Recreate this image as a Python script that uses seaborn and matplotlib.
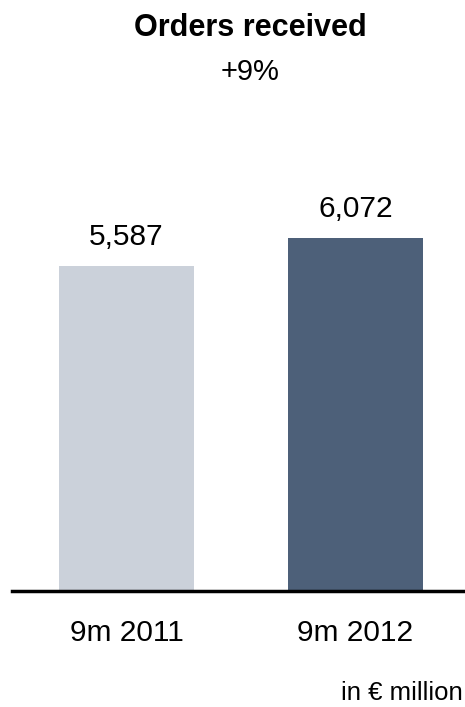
import matplotlib
matplotlib.use("Agg")
import matplotlib.pyplot as plt
import seaborn as sns
import pandas as pd

categories = ["9m 2011", "9m 2012"]
values = [5587, 6072]
value_labels = ["5,587", "6,072"]
colors = ["#CBD1DA", "#4D6079"]
title = "Orders received"
subtitle = "+9%"
unit_note = "in \u20ac million"

sns.set_theme(style="white")
plt.rcParams["font.family"] = ["Liberation Sans", "DejaVu Sans"]

df = pd.DataFrame({"period": categories, "orders": values})

fig = plt.figure(figsize=(4.65, 7.07), dpi=100)
ax = fig.add_axes([12 / 465, 116 / 707, 453 / 465, 441 / 707])
sns.barplot(data=df, x="period", y="orders", hue="period", palette=colors,
            width=0.59, legend=False, ax=ax, saturation=1, linewidth=0)

ax.set_xlim(-0.5, 1.478)
ax.set_ylim(0, 7581)
for s in ["top", "right", "left"]:
    ax.spines[s].set_visible(False)
ax.spines["bottom"].set_linewidth(2.5)
ax.spines["bottom"].set_color("black")
ax.set_yticks([])
ax.set_xlabel("")
ax.set_ylabel("")
ax.tick_params(axis="x", length=0, pad=20, labelsize=21.5, colors="black")

for cont, lab in zip(ax.containers, value_labels):
    ax.bar_label(cont, labels=[lab], padding=11, fontsize=21.5, color="black")

fig.text(250 / 465, 1 - 28 / 707, title, ha="center", va="center",
         fontsize=22, fontweight="bold", color="black")
fig.text(250 / 465, 1 - 72 / 707, subtitle, ha="center", va="center",
         fontsize=21, color="black")
fig.text(463 / 465, 1 - 693 / 707, unit_note, ha="right", va="center",
         fontsize=18.5, color="black")

fig.savefig("out.png", dpi=100)
